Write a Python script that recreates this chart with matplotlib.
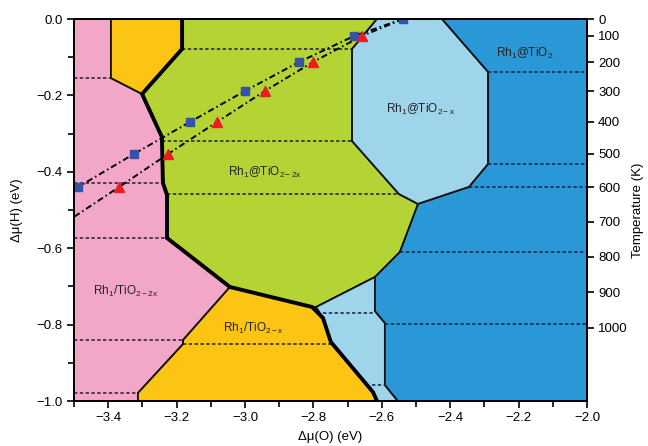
import matplotlib
matplotlib.use("Agg")
import matplotlib.pyplot as plt
from matplotlib.patches import Polygon

plt.rcParams['font.family'] = ['Liberation Sans', 'DejaVu Sans']
plt.rcParams['mathtext.fontset'] = 'custom'
plt.rcParams['mathtext.rm'] = 'Liberation Sans'
plt.rcParams['mathtext.it'] = 'Liberation Sans'

# ---- phase regions (Δμ(O), Δμ(H)) in eV ----
pink_region = [(-3.500, 0.0), (-3.392, 0.0), (-3.392, -0.1545), (-3.301, -0.1963),
               (-3.243, -0.3089), (-3.240, -0.4293), (-3.228, -0.4607), (-3.228, -0.5733),
               (-3.044, -0.7016), (-3.181, -0.8403), (-3.181, -0.8508), (-3.313, -0.9791),
               (-3.313, -1.0), (-3.500, -1.0)]
yellow_top_region = [(-3.392, 0.0), (-3.184, 0.0), (-3.184, -0.0785), (-3.301, -0.1963),
                     (-3.392, -0.1545)]
green_region = [(-3.184, 0.0), (-2.614, 0.0), (-2.687, -0.0785), (-2.687, -0.3194),
                (-2.550, -0.4581), (-2.494, -0.4843), (-2.547, -0.6099), (-2.620, -0.6754),
                (-2.792, -0.7539), (-2.804, -0.7539), (-3.044, -0.7016), (-3.228, -0.5733),
                (-3.228, -0.4607), (-3.240, -0.4293), (-3.243, -0.3089), (-3.301, -0.1963),
                (-3.184, -0.0785)]
yellow_bottom_region = [(-3.044, -0.7016), (-2.804, -0.7539), (-2.772, -0.7827),
                        (-2.749, -0.8455), (-2.626, -0.9764), (-2.614, -1.0), (-3.313, -1.0),
                        (-3.313, -0.9791), (-3.181, -0.8508), (-3.181, -0.8403)]
lightblue_lower_region = [(-2.792, -0.7539), (-2.620, -0.6754), (-2.620, -0.7644),
                          (-2.591, -0.7958), (-2.591, -0.9581), (-2.553, -1.0), (-2.614, -1.0),
                          (-2.626, -0.9764), (-2.749, -0.8455), (-2.772, -0.7827)]
lightblue_upper_region = [(-2.614, 0.0), (-2.424, 0.0), (-2.289, -0.1387), (-2.289, -0.3796),
                          (-2.345, -0.4398), (-2.494, -0.4843), (-2.550, -0.4581),
                          (-2.687, -0.3194), (-2.687, -0.0785)]
darkblue_region = [(-2.424, 0.0), (-2.0, 0.0), (-2.0, -1.0), (-2.553, -1.0), (-2.591, -0.9581),
                   (-2.591, -0.7958), (-2.620, -0.7644), (-2.620, -0.6754), (-2.547, -0.6099),
                   (-2.494, -0.4843), (-2.345, -0.4398), (-2.289, -0.3796), (-2.289, -0.1387)]

# thick phase boundary
thick_boundary = [(-3.184, 0.0), (-3.184, -0.0785), (-3.301, -0.1963), (-3.243, -0.3089),
                  (-3.240, -0.4293), (-3.228, -0.4607), (-3.228, -0.5733), (-3.044, -0.7016),
                  (-2.804, -0.7539), (-2.772, -0.7827), (-2.749, -0.8455), (-2.626, -0.9764),
                  (-2.614, -1.0)]

# dashed guide lines: (Δμ(H), Δμ(O) start, Δμ(O) end)
dashed_y = [-0.1545, -0.4293, -0.5733, -0.8403, -0.9791, -0.0785, -0.3194, -0.4581,
            -0.8508, -0.7696, -0.9581, -0.1387, -0.3796, -0.4398, -0.6099, -0.7984]
dashed_x0 = [-3.500, -3.500, -3.500, -3.500, -3.500, -3.184, -3.243, -3.228,
             -3.181, -2.772, -2.629, -2.289, -2.289, -2.345, -2.547, -2.591]
dashed_x1 = [-3.392, -3.240, -3.228, -3.181, -3.313, -2.687, -2.687, -2.550,
             -2.749, -2.620, -2.591, -2.0, -2.0, -2.0, -2.0, -2.0]

# temperature scale on the right axis
temp_labels = [0, 100, 200, 300, 400, 500, 600, 700, 800, 900, 1000]
temp_mu_h = [0.0, -0.0445, -0.1126, -0.1885, -0.2696, -0.3534, -0.4398,
             -0.5314, -0.6230, -0.7147, -0.8089]

# conditions path 1 (squares), T = 0 ... 600 K
square_mu_o = [-2.538, -2.681, -2.842, -3.000, -3.161, -3.325, -3.488]
square_mu_h = temp_mu_h[0:7]
square_line_o = [-2.538, -2.681, -2.842, -3.000, -3.161, -3.325, -3.488, -3.500]
square_line_h = [0.0, -0.0445, -0.1126, -0.1885, -0.2696, -0.3534, -0.4398, -0.443]

# conditions path 2 (triangles), T = 100 ... 600 K
tri_mu_o = [-2.658, -2.801, -2.942, -3.082, -3.225, -3.368]
tri_mu_h = temp_mu_h[1:7]
tri_line_o = [-2.538, -2.658, -2.801, -2.942, -3.082, -3.225, -3.368, -3.500]
tri_line_h = [0.0, -0.0445, -0.1126, -0.1885, -0.2696, -0.3534, -0.4398, -0.518]

region_labels = [r"Rh$_1$@TiO$_2$", r"Rh$_1$@TiO$_{2-x}$", r"Rh$_1$@TiO$_{2-2x}$",
                 r"Rh$_1$/TiO$_{2-2x}$", r"Rh$_1$/TiO$_{2-x}$"]
label_mu_o = [-2.181, -2.488, -2.942, -3.348, -2.977]
label_mu_h = [-0.089, -0.238, -0.403, -0.712, -0.809]

PINK = "#F2A6C8"
YELLOW = "#FCC514"
GREEN = "#B4D334"
LIGHTBLUE = "#9ED5EA"
DARKBLUE = "#2A97D6"

fig = plt.figure(figsize=(6.48, 4.46), dpi=100)
ax = fig.add_axes([74 / 648, 1 - 401 / 446, (587 - 74) / 648, (401 - 19) / 446])

regions = [(pink_region, PINK), (yellow_top_region, YELLOW), (green_region, GREEN),
           (yellow_bottom_region, YELLOW), (lightblue_lower_region, LIGHTBLUE),
           (lightblue_upper_region, LIGHTBLUE), (darkblue_region, DARKBLUE)]
for verts, col in regions:
    ax.add_patch(Polygon(verts, closed=True, facecolor=col, edgecolor="#111111",
                         linewidth=1.3, joinstyle="miter", zorder=1))

bx, by = zip(*thick_boundary)
ax.plot(bx, by, color="black", lw=2.8, solid_joinstyle="miter", zorder=3)

for yv, x0, x1 in zip(dashed_y, dashed_x0, dashed_x1):
    ax.plot([x0, x1], [yv, yv], color="#1d1d3a", lw=1.1, dashes=(2.2, 1.6), zorder=2)

dashdot = (0, (3.2, 1.6, 0.8, 1.6))
ax.plot(square_line_o, square_line_h, color="black", lw=1.4, linestyle=dashdot, zorder=4)
ax.plot(tri_line_o, tri_line_h, color="black", lw=1.4, linestyle=dashdot, zorder=4)
ax.plot(square_mu_o, square_mu_h, linestyle="none", marker="s", markersize=6,
        color="#3653A8", zorder=5)
ax.plot(tri_mu_o, tri_mu_h, linestyle="none", marker="^", markersize=7.5,
        color="#EC1C24", zorder=5)

for txt, xo, yh in zip(region_labels, label_mu_o, label_mu_h):
    ax.text(xo, yh, txt, ha="center", va="center", fontsize=8.5, color="#222222", zorder=6)

ax.set_xlim(-3.5, -2.0)
ax.set_ylim(-1.0, 0.0)
ax.set_xticks([-3.4, -3.2, -3.0, -2.8, -2.6, -2.4, -2.2, -2.0])
ax.set_xticks([-3.5, -3.3, -3.1, -2.9, -2.7, -2.5, -2.3, -2.1], minor=True)
ax.set_yticks([-1.0, -0.8, -0.6, -0.4, -0.2, 0.0])
ax.set_yticks([-0.9, -0.7, -0.5, -0.3, -0.1], minor=True)
fmt = matplotlib.ticker.FuncFormatter(lambda v, p: f"{v:.1f}".replace("-", "\u2212"))
ax.xaxis.set_major_formatter(fmt)
ax.yaxis.set_major_formatter(fmt)
ax.tick_params(axis="both", which="major", direction="out", length=5, width=1.2, labelsize=9.5, pad=3)
ax.tick_params(axis="both", which="minor", direction="out", length=4, width=1.2)
for s in ax.spines.values():
    s.set_linewidth(1.4)
ax.set_xlabel("\u0394\u03bc(O) (eV)", fontsize=9.5, labelpad=5)
ax.set_ylabel("\u0394\u03bc(H) (eV)", fontsize=9.5, labelpad=10)

ax2 = ax.twinx()
ax2.set_ylim(-1.0, 0.0)
ax2.set_yticks(temp_mu_h)
ax2.set_yticklabels([str(t) for t in temp_labels])
ax2.tick_params(axis="y", direction="out", length=5, width=1.2, labelsize=9.5, pad=3)
ax2.set_ylabel("Temperature (K)", fontsize=9.5, labelpad=3)
for s in ax2.spines.values():
    s.set_linewidth(1.4)

fig.savefig("out.png", dpi=100)
